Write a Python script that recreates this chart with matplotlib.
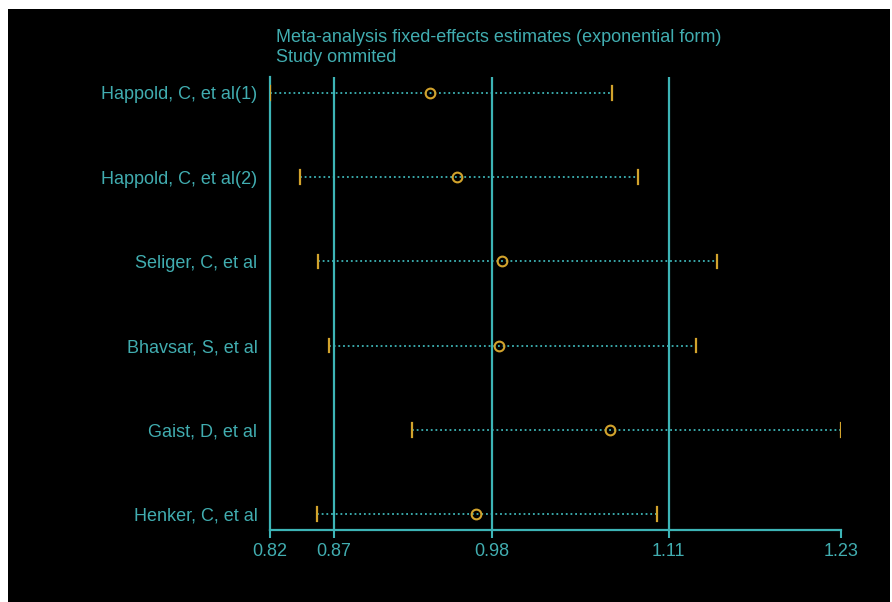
import matplotlib
matplotlib.use("Agg")
import matplotlib.pyplot as plt
from matplotlib.patches import Rectangle

# --- Data (exponential form, one study omitted at a time) ---
studies = ["Happold, C, et al(1)", "Happold, C, et al(2)", "Seliger, C, et al",
           "Bhavsar, S, et al", "Gaist, D, et al", "Henker, C, et al"]
estimate = [0.9386, 0.9579, 0.9900, 0.9879, 1.0676, 0.9713]
lower = [0.8243, 0.8457, 0.8586, 0.8664, 0.9259, 0.8582]
upper = [1.0690, 1.0871, 1.1436, 1.1286, 1.2324, 1.1011]
# overall fixed-effects lower CI, estimate, upper CI
overall = [0.8700, 0.9829, 1.1093]

teal = "#3db4b6"
text_teal = "#41adb0"
yellow = "#d2a32c"

plt.rcParams["font.family"] = ["Liberation Sans", "DejaVu Sans"]

fig = plt.figure(figsize=(8.92, 6.02), dpi=100, facecolor="white")
# black plot region (white strip left/top as in the screenshot)
fig.add_artist(Rectangle((8 / 892, 0), 882 / 892, 593 / 602,
                         transform=fig.transFigure, facecolor="black",
                         edgecolor="none", zorder=-10))

ax = fig.add_axes([270 / 892, 1 - 530 / 602, 571 / 892, 453 / 602])
ax.set_facecolor("black")

n = len(studies)
ypos = list(range(n))

for v in overall:
    ax.axvline(v, color=teal, lw=1.6, zorder=1)

for y, lo, est, hi in zip(ypos, lower, estimate, upper):
    ax.plot([lo, hi], [y, y], color=teal, lw=1.3, linestyle=(0, (1, 1.6)), zorder=2)
    ax.plot([lo, lo], [y - 0.08, y + 0.08], color=yellow, lw=1.6, zorder=3)
    ax.plot([hi, hi], [y - 0.08, y + 0.08], color=yellow, lw=1.6, zorder=3)
ax.plot(estimate, ypos, "o", mfc="none", mec=yellow, mew=1.5, ms=7, zorder=4)

xmin, xmax = min(lower), max(upper)
ax.set_xlim(xmin, xmax)
ax.set_ylim(n - 1 + 0.19, -0.19)

ticks = [xmin] + overall + [xmax]
ax.set_xticks(ticks)
ax.set_xticklabels([f"{t:.2f}" for t in ticks])
ax.set_yticks(ypos)
ax.set_yticklabels(studies)

for side in ["top", "right"]:
    ax.spines[side].set_visible(False)
for side in ["left", "bottom"]:
    ax.spines[side].set_color(teal)
    ax.spines[side].set_linewidth(1.6)

ax.tick_params(axis="x", colors=teal, labelcolor=text_teal, length=6, width=1.5,
               labelsize=13, pad=3)
ax.tick_params(axis="y", length=0, labelcolor=text_teal, labelsize=13, pad=9)

fig.text(276 / 892, 1 - 37 / 602, "Meta-analysis fixed-effects estimates (exponential form)",
         color=text_teal, fontsize=13, va="center", ha="left")
fig.text(276 / 892, 1 - 58 / 602, "Study ommited",
         color=text_teal, fontsize=13, va="center", ha="left")

fig.savefig("out.png", dpi=100, facecolor="white")
